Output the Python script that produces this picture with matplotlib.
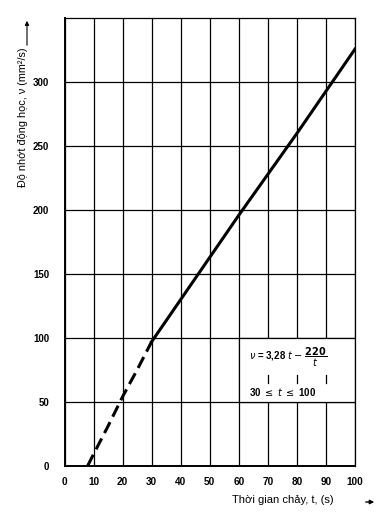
import matplotlib
matplotlib.use("Agg")
import matplotlib.pyplot as plt
import matplotlib.patches as patches

# values
t_dash = [8, 10, 15, 20, 25, 30]
v_dash = [0, 9, 31, 54, 75, 97]
t_solid = [30, 40, 50, 60, 70, 80, 90, 100]
v_solid = [97, 130, 163, 196, 228, 260, 293, 326]

x_ticks = [0, 10, 20, 30, 40, 50, 60, 70, 80, 90, 100]
y_ticks = [0, 50, 100, 150, 200, 250, 300]

plt.rcParams['font.family'] = ['Liberation Sans', 'DejaVu Sans']
plt.rcParams['mathtext.fontset'] = 'dejavusans'

fig = plt.figure(figsize=(3.86, 5.25), dpi=100)
ax = fig.add_axes([0.1671, 0.1130, 0.7526, 0.8520])

ax.set_xlim(0, 100)
ax.set_ylim(0, 350)
ax.set_xticks(x_ticks)
ax.set_yticks(y_ticks)
ax.set_xticklabels([str(v) for v in x_ticks], fontsize=7.2, fontweight='bold')
ax.set_yticklabels([str(v) for v in y_ticks], fontsize=7, fontweight='bold')
ax.tick_params(axis='x', length=0, pad=8)
ax.tick_params(axis='y', length=0, pad=11)

ax.set_axisbelow(True)
ax.grid(True, color='black', linewidth=0.9)

for side in ['left', 'bottom']:
    ax.spines[side].set_linewidth(1.4)
for side in ['top', 'right']:
    ax.spines[side].set_linewidth(0.9)

# formula box, blanks out the grid cell
box = patches.Rectangle((60, 50), 40, 50, facecolor='white', edgecolor='black',
                        linewidth=0.9, zorder=1)
ax.add_patch(box)
for xs in [70, 80, 90]:
    ax.plot([xs, xs], [65, 71], color='black', linewidth=0.9, zorder=1.5)

ax.plot(t_dash, v_dash, color='black', linewidth=2.2, linestyle=(0, (4, 2)),
        solid_capstyle='butt', zorder=3)
ax.plot(t_solid, v_solid, color='black', linewidth=2.2, zorder=3)

ax.text(63.5, 85, r"$\nu$ = 3,28 $t$ $-$ $\dfrac{\mathbf{220}}{t}$", fontsize=7,
        fontweight='bold', va='center', ha='left', zorder=4)
ax.text(63.5, 58, r"30 $\leq$ $t$ $\leq$ 100", fontsize=7,
        fontweight='bold', va='center', ha='left', zorder=4)

# axis labels with arrows
fig.text(23 / 386, 1 - 117 / 525, "Độ nhớt động học, ν (mm²/s)", rotation=90,
         fontsize=7.8, ha='center', va='center')
fig.add_artist(patches.FancyArrowPatch((27 / 386, 1 - 48 / 525), (27 / 386, 1 - 18 / 525),
                                       transform=fig.transFigure, arrowstyle='-|>',
                                       mutation_scale=6, linewidth=0.8, color='black'))
fig.text(283 / 386, 1 - 500 / 525, "Thời gian chảy, t, (s)", fontsize=8,
         ha='center', va='center')
fig.add_artist(patches.FancyArrowPatch((363 / 386, 1 - 502 / 525), (377 / 386, 1 - 502 / 525),
                                       transform=fig.transFigure, arrowstyle='-|>',
                                       mutation_scale=6, linewidth=1.0, color='black'))

fig.savefig("out.png", dpi=100)
